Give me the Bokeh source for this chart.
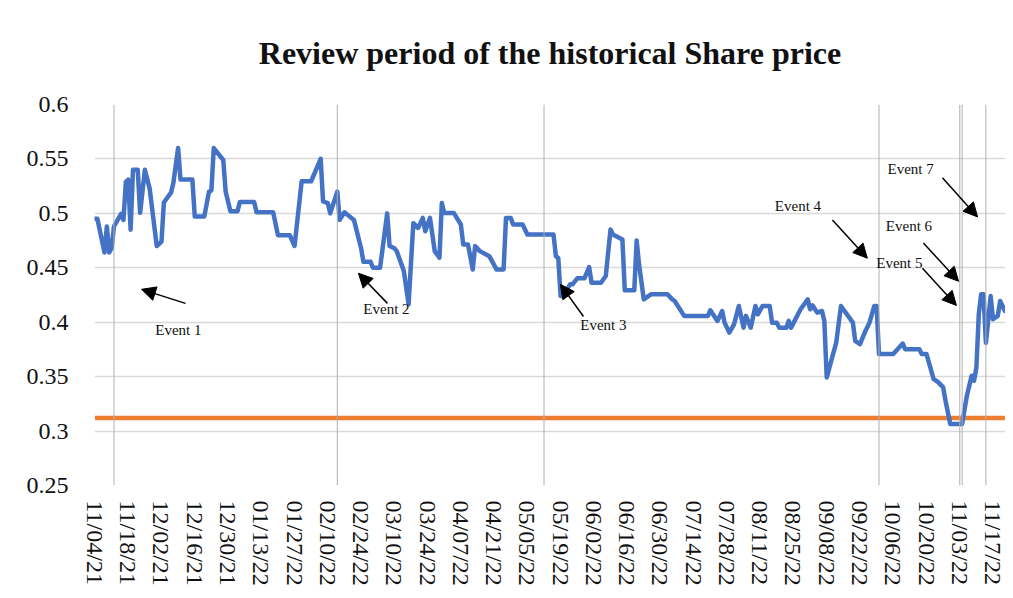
import pandas as pd
from bokeh.plotting import figure
from bokeh.models import (Range1d, FixedTicker, DatetimeTickFormatter, Arrow,
                          NormalHead, Label, Span, ColumnDataSource, Title)
from bokeh.embed import file_html
from bokeh.resources import INLINE

# ---------------- data ----------------
START = pd.Timestamp("2021-11-04")
TITLE = "Review period of the historical Share price"

# trading-day positions (days since 11/04/21) and share price
day_offset = [0, 1, 4, 5, 6, 7, 8, 11, 12, 13,
              14, 15, 16, 18, 19, 21, 23, 26, 28, 29,
              32, 33, 35, 36, 41, 42, 46, 48, 49, 50,
              54, 55, 57, 60, 61, 67, 68, 75, 77, 82,
              84, 87, 91, 95, 96, 98, 99, 102, 103, 105,
              109, 112, 113, 116, 117, 120, 123, 124, 126, 127,
              130, 132, 134, 136, 138, 139, 141, 143, 145, 146,
              147, 151, 154, 155, 157, 159, 160, 162, 166, 169,
              172, 173, 175, 176, 180, 182, 193, 194, 195, 196,
              197, 200, 201, 203, 206, 208, 209, 213, 215, 217,
              218, 222, 223, 227, 228, 229, 231, 234, 241, 243,
              244, 248, 258, 259, 262, 264, 265, 267, 269, 271,
              273, 274, 276, 278, 279, 281, 284, 285, 287, 288,
              291, 292, 293, 297, 300, 301, 302, 304, 306, 307,
              308, 312, 314, 319, 320, 322, 324, 326, 328, 329,
              330, 336, 340, 341, 347, 348, 350, 353, 355, 357,
              358, 360, 365, 367, 369, 370, 371, 372, 373, 374,
              375, 377, 378, 380, 381, 383]

price = [.495, .495, .464, .488, .464, .468, .488, .4995, .494, .529,
         .531, .485, .540, .540, .5005, .540, .523, .470, .474, .510,
         .519, .528, .560, .531, .531, .497, .497, .520, .521, .560,
         .549, .520, .502, .502, .5105, .5105, .501, .501, .480, .480,
         .470, .5295, .5295, .550, .511, .5095, .500, .520, .494, .501,
         .494, .468, .4555, .4555, .450, .450, .500, .470, .468, .4653,
         .447, .4165, .491, .4866, .4958, .4836, .4958, .4653, .4592, .5096,
         .5004, .5004, .4898, .4715, .4715, .4485, .4699, .4653, .4607, .4485,
         .4485, .4958, .4958, .4898, .4898, .4806, .4806, .4607, .459, .424,
         .424, .4348, .4348, .4403, .4403, .4507, .4363, .4363, .4424, .4852,
         .4806, .476, .4293, .4293, .4751, .4531, .421, .4256, .4256, .421,
         .4195, .4058, .4058, .411, .4012, .4103, .3996, .3905, .3981, .4149,
         .395, .4058, .395, .4149, .4073, .4149, .4149, .3996, .3996, .395,
         .395, .4012, .395, .4119, .421, .4119, .4155, .4088, .4103, .4012,
         .3492, .3813, .4149, .3996, .3828, .3798, .3905, .3996, .4149, .4149,
         .3707, .3707, .3804, .3752, .3752, .3707, .3707, .3478, .3447, .3401,
         .3279, .3065, .3065, .3325, .3508, .3462, .3584, .407, .4256, .4256,
         .381, .424, .4027, .4058, .4195, .4103]

threshold = 0.312

event_names = ["Event 1", "Event 2", "Event 3", "Event 4", "Event 5", "Event 6", "Event 7"]
event_text_day = [35.1, 122.7, 214.0, 295.9, 338.6, 342.6, 343.3]
event_text_price = [0.3933, 0.4117, 0.3979, 0.5068, 0.4542, 0.4884, 0.5410]
arrow_tail_day = [38.1, 123.1, 205.6, 310.4, 348.3, 348.7, 356.7]
arrow_tail_price = [0.4173, 0.4173, 0.4053, 0.4939, 0.4496, 0.4727, 0.5327]
arrow_head_day = [19.6, 110.9, 195.9, 325.1, 362.6, 363.5, 371.5]
arrow_head_price = [0.4302, 0.4450, 0.4348, 0.4588, 0.4154, 0.4376, 0.4967]

event_line_dates = ["2021-11-12", "2022-02-14", "2022-05-12", "2022-09-30",
                    "2022-11-03", "2022-11-04", "2022-11-14"]

x_tick_labels = ["11/04/21", "11/18/21", "12/02/21", "12/16/21", "12/30/21",
                 "01/13/22", "01/27/22", "02/10/22", "02/24/22", "03/10/22",
                 "03/24/22", "04/07/22", "04/21/22", "05/05/22", "05/19/22",
                 "06/02/22", "06/16/22", "06/30/22", "07/14/22", "07/28/22",
                 "08/11/22", "08/25/22", "09/08/22", "09/22/22", "10/06/22",
                 "10/20/22", "11/03/22", "11/17/22"]
y_ticks = [0.25, 0.3, 0.35, 0.4, 0.45, 0.5, 0.55, 0.6]
y_tick_labels = ["0.25", "0.3", "0.35", "0.4", "0.45", "0.5", "0.55", "0.6"]


def to_ms(ts):
    return (pd.Timestamp(ts) - pd.Timestamp("1970-01-01")) / pd.Timedelta(milliseconds=1)


def day_ms(d):
    return to_ms(START + pd.Timedelta(days=d))


dates = [START + pd.Timedelta(days=d) for d in day_offset]
src = ColumnDataSource(dict(date=dates, price=price, thr=[threshold] * len(price)))

FONT = "Liberation Serif"

p = figure(width=1005, height=590, output_backend="svg", toolbar_location=None,
           x_axis_type="datetime",
           x_range=Range1d(day_ms(-0.2), day_ms(383.25)),
           y_range=Range1d(0.25, 0.6),
           min_border_left=94, min_border_right=0, min_border_top=104, min_border_bottom=105)

p.outline_line_color = None
p.background_fill_color = "white"
p.border_fill_color = "white"

# spacer (closest to the frame) then the real title
p.add_layout(Title(text=" ", text_font_size="16px"), "above")
p.title.text = TITLE
p.title.text_font = FONT
p.title.text_font_size = "32px"
p.title.text_font_style = "bold"
p.title.text_color = "#111111"
p.title.align = "center"
p.title.offset = -5

# grid
p.xgrid.grid_line_color = None
p.ygrid.grid_line_color = "#d9d9d9"
p.ygrid.grid_line_width = 1.5
p.ygrid.ticker = FixedTicker(ticks=y_ticks)

# y axis
p.yaxis.ticker = FixedTicker(ticks=y_ticks)
p.yaxis.major_label_overrides = {t: l for t, l in zip(y_ticks, y_tick_labels)}
p.yaxis.axis_line_color = None
p.yaxis.major_tick_line_color = None
p.yaxis.minor_tick_line_color = None
p.yaxis.major_label_text_font = FONT
p.yaxis.major_label_text_font_size = "24px"
p.yaxis.major_label_text_color = "#111111"
p.yaxis.major_label_standoff = 20

# x axis
x_ticks = [to_ms(pd.to_datetime(s, format="%m/%d/%y")) for s in x_tick_labels]
p.xaxis.ticker = FixedTicker(ticks=x_ticks)
fmt = "%m/%d/%y"
p.xaxis.formatter = DatetimeTickFormatter(milliseconds=fmt, seconds=fmt, minsec=fmt, minutes=fmt,
                                          hourmin=fmt, hours=fmt, days=fmt, months=fmt, years=fmt)
p.xaxis.major_label_orientation = "vertical"
p.xaxis.axis_line_color = None
p.xaxis.major_tick_line_color = None
p.xaxis.minor_tick_line_color = None
p.xaxis.major_label_text_font = FONT
p.xaxis.major_label_text_font_size = "24px"
p.xaxis.major_label_text_color = "#111111"
p.xaxis.major_label_standoff = 9

# event vertical lines
for d in event_line_dates:
    p.add_layout(Span(location=to_ms(d), dimension="height", line_color="#b0b0b0", line_width=1))

# series
p.line("date", "thr", source=src, line_color="#ED7D31", line_width=4.5)
p.line("date", "price", source=src, line_color="#4472C4", line_width=4.5,
       line_join="round", line_cap="round")

# annotations
for name, tx, ty, sx, sy, ex, ey in zip(event_names, event_text_day, event_text_price,
                                         arrow_tail_day, arrow_tail_price,
                                         arrow_head_day, arrow_head_price):
    p.add_layout(Arrow(end=NormalHead(size=14, fill_color="black", line_color="black"),
                       x_start=day_ms(sx), y_start=sy, x_end=day_ms(ex), y_end=ey,
                       line_color="black", line_width=1.5))
    p.add_layout(Label(x=day_ms(tx), y=ty, text=name, text_align="center",
                       text_baseline="middle", text_font=FONT, text_font_size="15px",
                       text_color="#111111"))

open("out.html", "w").write(file_html(p, INLINE))
